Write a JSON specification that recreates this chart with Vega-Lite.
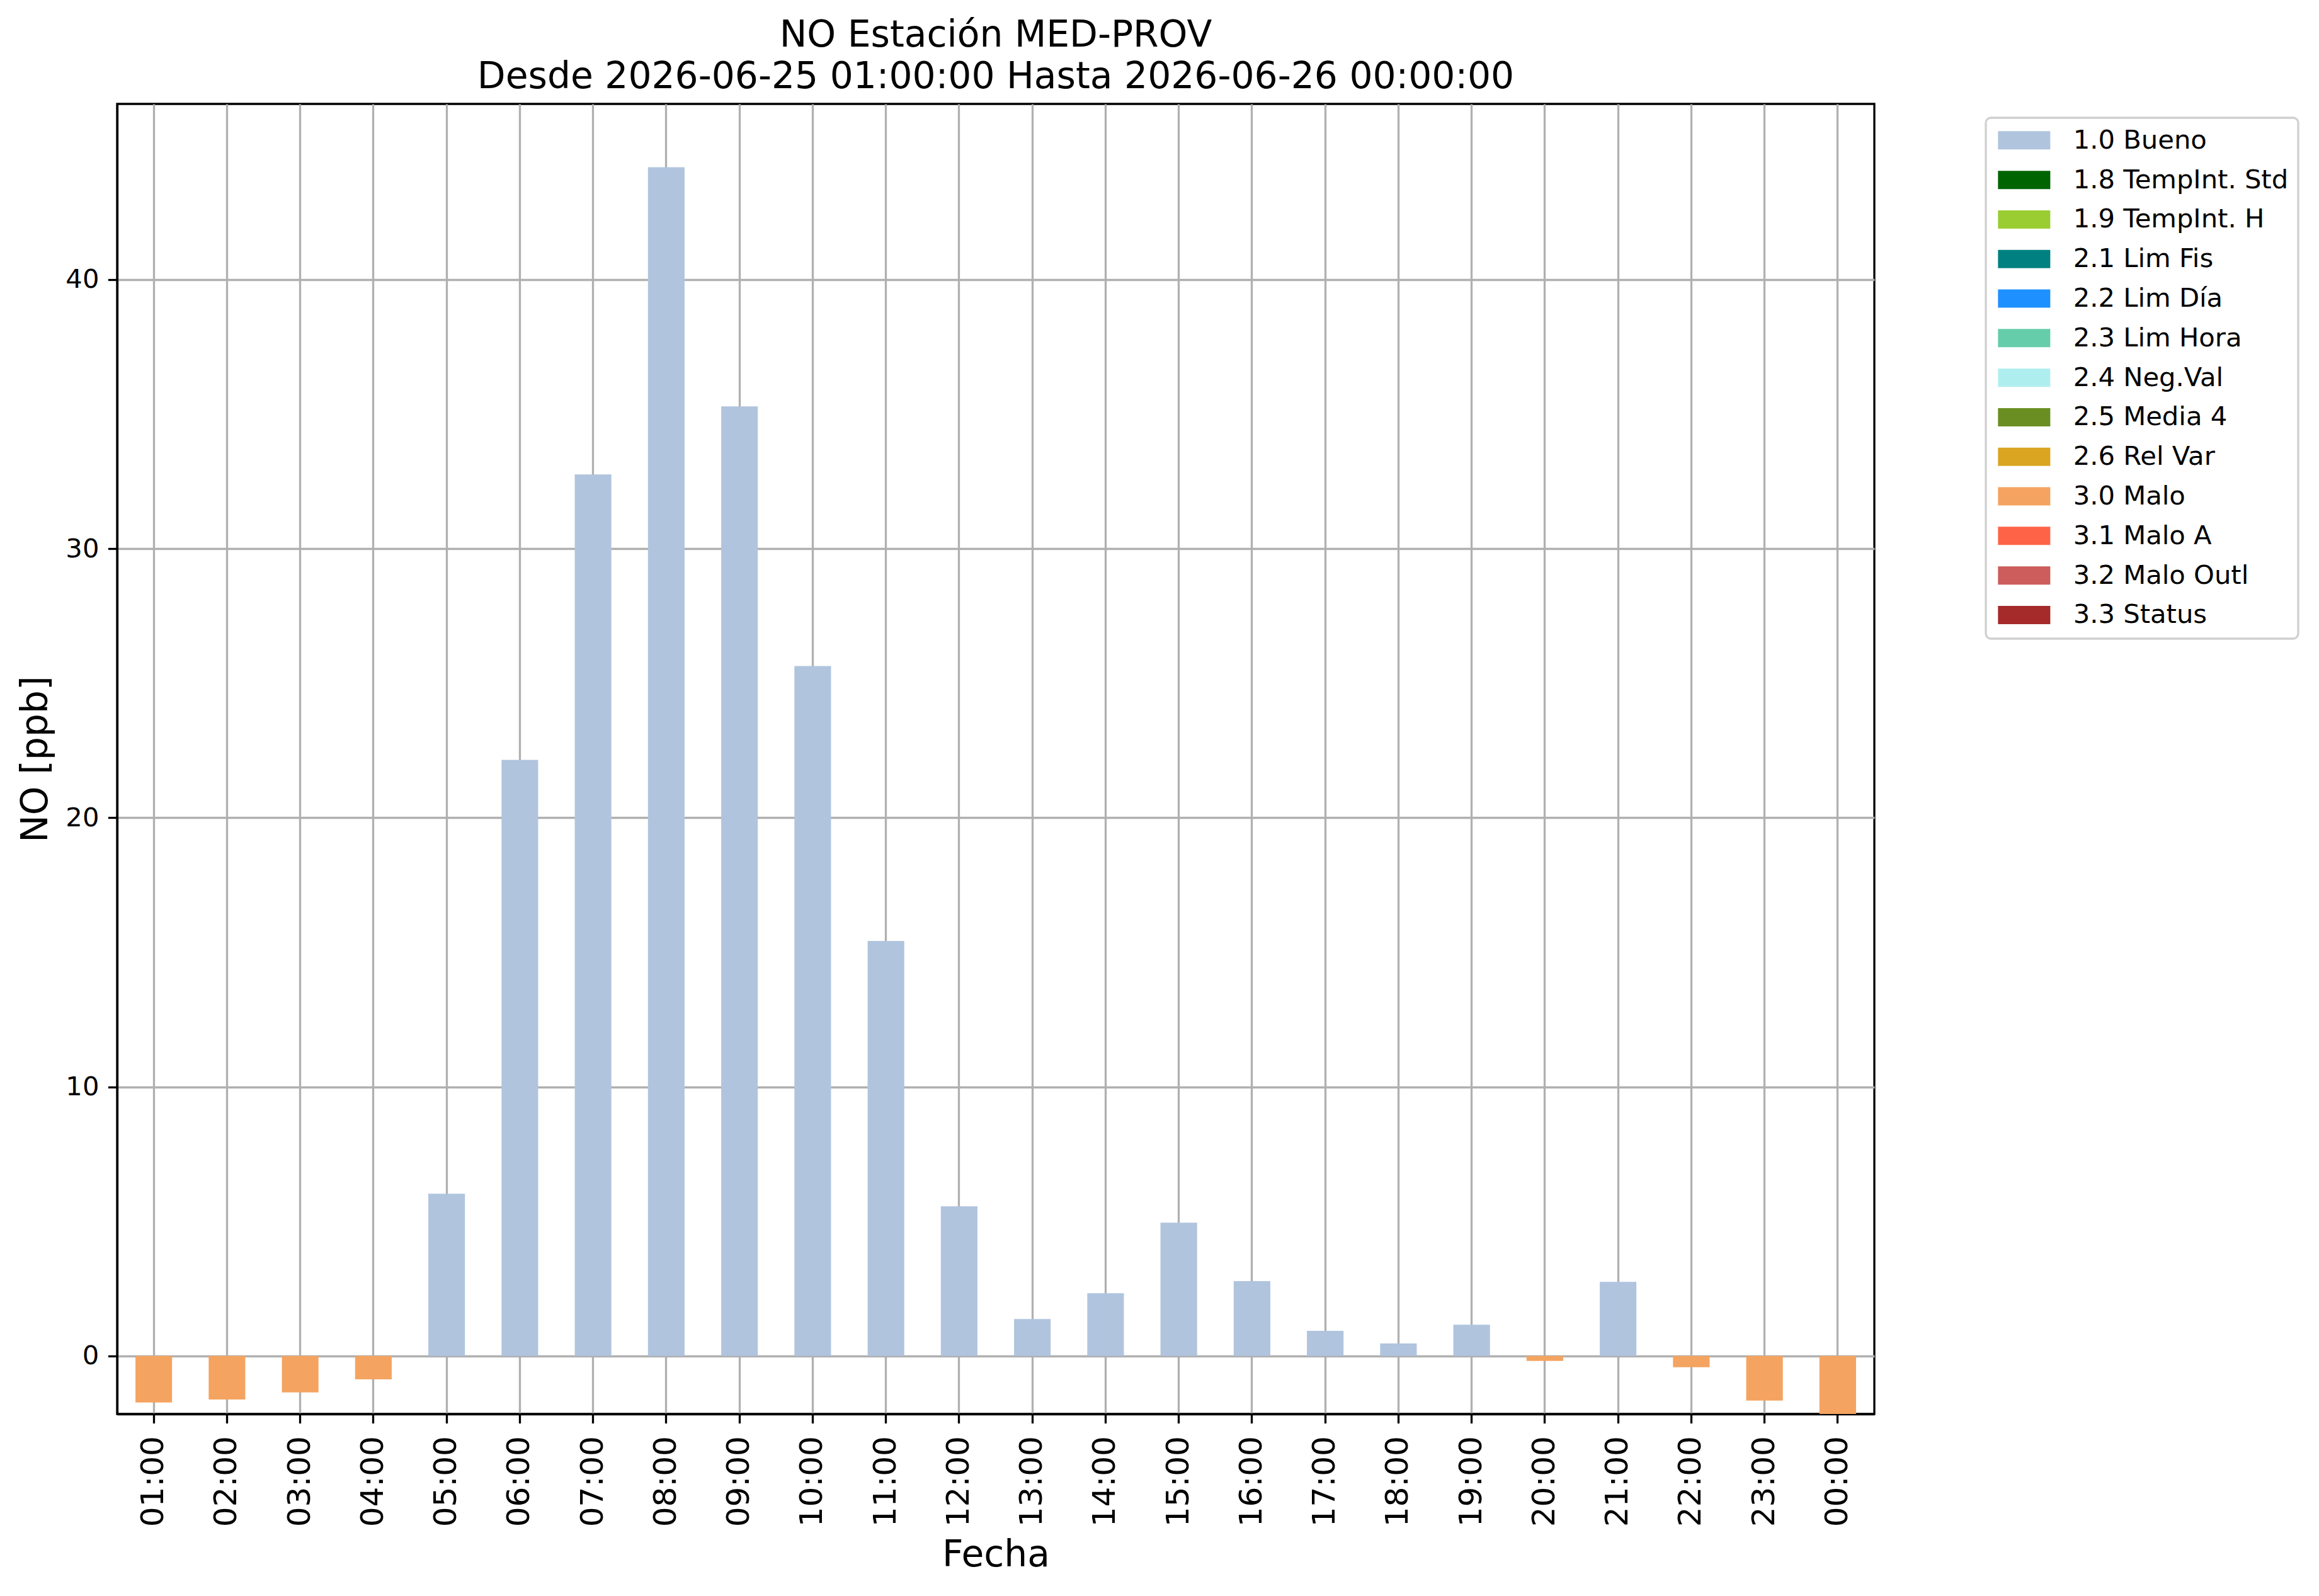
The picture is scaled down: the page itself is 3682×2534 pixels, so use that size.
{
  "$schema": "https://vega.github.io/schema/vega-lite/v6.json",
  "width": 2790,
  "height": 2080,
  "autosize": {"type": "none"},
  "padding": {"left": 186, "top": 165, "right": 706, "bottom": 289},
  "background": "white",
  "title": {
    "text": ["NO Estación MED-PROV", "Desde 2026-06-25 01:00:00 Hasta 2026-06-26 00:00:00"],
    "anchor": "middle",
    "frame": "group",
    "font": "DejaVu Sans",
    "fontSize": 58.3,
    "fontWeight": "normal",
    "color": "black",
    "lineHeight": 66,
    "offset": 13
  },
  "data": {
    "values": [
      {"Hora": "01:00", "NO": -1.73, "Calidad": "3.0 Malo"},
      {"Hora": "02:00", "NO": -1.62, "Calidad": "3.0 Malo"},
      {"Hora": "03:00", "NO": -1.36, "Calidad": "3.0 Malo"},
      {"Hora": "04:00", "NO": -0.87, "Calidad": "3.0 Malo"},
      {"Hora": "05:00", "NO": 6.03, "Calidad": "1.0 Bueno"},
      {"Hora": "06:00", "NO": 22.15, "Calidad": "1.0 Bueno"},
      {"Hora": "07:00", "NO": 32.76, "Calidad": "1.0 Bueno"},
      {"Hora": "08:00", "NO": 44.18, "Calidad": "1.0 Bueno"},
      {"Hora": "09:00", "NO": 35.29, "Calidad": "1.0 Bueno"},
      {"Hora": "10:00", "NO": 25.64, "Calidad": "1.0 Bueno"},
      {"Hora": "11:00", "NO": 15.42, "Calidad": "1.0 Bueno"},
      {"Hora": "12:00", "NO": 5.56, "Calidad": "1.0 Bueno"},
      {"Hora": "13:00", "NO": 1.37, "Calidad": "1.0 Bueno"},
      {"Hora": "14:00", "NO": 2.33, "Calidad": "1.0 Bueno"},
      {"Hora": "15:00", "NO": 4.95, "Calidad": "1.0 Bueno"},
      {"Hora": "16:00", "NO": 2.78, "Calidad": "1.0 Bueno"},
      {"Hora": "17:00", "NO": 0.93, "Calidad": "1.0 Bueno"},
      {"Hora": "18:00", "NO": 0.46, "Calidad": "1.0 Bueno"},
      {"Hora": "19:00", "NO": 1.16, "Calidad": "1.0 Bueno"},
      {"Hora": "20:00", "NO": -0.19, "Calidad": "3.0 Malo"},
      {"Hora": "21:00", "NO": 2.75, "Calidad": "1.0 Bueno"},
      {"Hora": "22:00", "NO": -0.42, "Calidad": "3.0 Malo"},
      {"Hora": "23:00", "NO": -1.66, "Calidad": "3.0 Malo"},
      {"Hora": "00:00", "NO": -2.4, "Calidad": "3.0 Malo"}
    ]
  },
  "mark": {"type": "bar", "clip": true},
  "encoding": {
    "x": {
      "field": "Hora",
      "type": "nominal",
      "sort": null,
      "title": "Fecha",
      "scale": {"paddingInner": 0.5, "paddingOuter": 0.25},
      "axis": {
        "labelAngle": 270,
        "labelAlign": "right",
        "labelBaseline": "middle",
        "labelFontSize": 50,
        "labelPadding": 20,
        "titlePadding": 17,
        "grid": true
      }
    },
    "y": {
      "field": "NO",
      "type": "quantitative",
      "title": "NO [ppb]",
      "scale": {"domain": [-2.16, 46.53], "nice": false, "zero": false},
      "axis": {
        "values": [0, 10, 20, 30, 40],
        "labelFontSize": 41.7,
        "labelPadding": 14.5,
        "titlePadding": 17
      }
    },
    "color": {
      "field": "Calidad",
      "type": "nominal",
      "title": null,
      "scale": {
        "domain": [
          "1.0 Bueno", "1.8 TempInt. Std", "1.9 TempInt. H", "2.1 Lim Fis",
          "2.2 Lim Día", "2.3 Lim Hora", "2.4 Neg.Val", "2.5 Media 4",
          "2.6 Rel Var", "3.0 Malo", "3.1 Malo A", "3.2 Malo Outl", "3.3 Status"
        ],
        "range": [
          "#b0c4de", "#006400", "#9acd32", "#008080",
          "#1e90ff", "#66cdaa", "#afeeee", "#6b8e23",
          "#daa520", "#f4a460", "#ff6347", "#cd5c5c", "#a52a2a"
        ]
      },
      "legend": {
        "orient": "none",
        "legendX": 2967,
        "legendY": 22,
        "labelLimit": 0,
        "symbolType": "M-2.862,-1H2.862V1H-2.862Z",
        "symbolSize": 841,
        "symbolStrokeWidth": 0,
        "symbolOpacity": 1,
        "symbolOffset": 25,
        "labelOffset": 57,
        "rowPadding": 19.8
      }
    }
  },
  "config": {
    "font": "DejaVu Sans",
    "view": {"stroke": "black", "strokeWidth": 3.3},
    "legend": {
      "fillColor": "white",
      "strokeColor": "#d0d0d0",
      "strokeWidth": 3.3,
      "cornerRadius": 8,
      "padding": 15,
      "labelFont": "DejaVu Sans",
      "labelFontSize": 41.7,
      "labelColor": "black"
    },
    "axis": {
      "zindex": 1,
      "domain": true,
      "domainColor": "black",
      "domainWidth": 3.3,
      "grid": true,
      "gridColor": "#b0b0b0",
      "gridWidth": 3.3,
      "gridOpacity": 1,
      "ticks": true,
      "tickColor": "black",
      "tickWidth": 3.3,
      "tickSize": 14.6,
      "labelFont": "DejaVu Sans",
      "labelColor": "black",
      "titleFont": "DejaVu Sans",
      "titleFontSize": 58.3,
      "titleFontWeight": "normal",
      "titleColor": "black"
    }
  }
}
